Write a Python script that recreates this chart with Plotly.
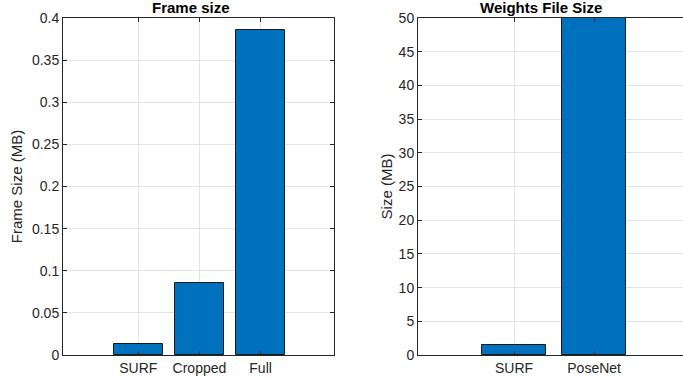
import plotly.graph_objects as go

W, H = 683, 379

frame_cats = ["SURF", "Cropped", "Full"]
frame_vals = [0.013, 0.086, 0.386]
weight_cats = ["SURF", "PoseNet"]
weight_vals = [1.5, 50]

frame_ticks = [0, 0.05, 0.1, 0.15, 0.2, 0.25, 0.3, 0.35, 0.4]
frame_ticktext = ["0", "0.05", "0.1", "0.15", "0.2", "0.25", "0.3", "0.35", "0.4"]
weight_ticks = [0, 5, 10, 15, 20, 25, 30, 35, 40, 45, 50]

BAR = "#0072BD"
AX = "#262626"
GRID = "#e3e3e3"
FONT = "Liberation Sans, Arial, Helvetica, sans-serif"
TICK_FS = 14
LABEL_FS = 15
TITLE_FS = 15

fig = go.Figure()
fig.add_trace(go.Bar(x=list(range(1, len(frame_cats) + 1)), y=frame_vals, width=0.8,
                     marker=dict(color=BAR, line=dict(color="#1a1a1a", width=1)),
                     xaxis="x", yaxis="y", showlegend=False))
fig.add_trace(go.Bar(x=list(range(1, len(weight_cats) + 1)), y=weight_vals, width=0.8,
                     marker=dict(color=BAR, line=dict(color="#1a1a1a", width=1)),
                     xaxis="x2", yaxis="y2", showlegend=False, cliponaxis=True))

common = dict(showline=True, linecolor=AX, linewidth=1, ticks="inside", ticklen=4,
              tickcolor=AX, showgrid=True, gridcolor=GRID, gridwidth=1, zeroline=False,
              tickfont=dict(family=FONT, size=TICK_FS, color=AX))

left_dom = [63 / W, 334 / W]
right_dom = [418 / W, 1.0]

fig.update_layout(
    width=W, height=H,
    margin=dict(l=0, r=0, t=18, b=24),
    paper_bgcolor="white", plot_bgcolor="white",
    bargap=0,
    xaxis=dict(domain=left_dom, range=[-0.23, 4.2], tickvals=list(range(1, len(frame_cats) + 1)),
               ticktext=frame_cats, mirror="ticks", anchor="y", **common),
    yaxis=dict(domain=[0, 1], range=[0, 0.4], tickvals=frame_ticks, ticktext=frame_ticktext,
               mirror="ticks", anchor="x",
               title=dict(text="Frame Size (MB)", font=dict(family=FONT, size=LABEL_FS, color=AX), standoff=5),
               **common),
    xaxis2=dict(domain=right_dom, range=[-0.2, 3.11], tickvals=list(range(1, len(weight_cats) + 1)),
                ticktext=weight_cats, mirror="ticks", anchor="y2", **common),
    yaxis2=dict(domain=[0, 1], range=[0, 50], tickvals=weight_ticks, anchor="x2",
                mirror=False,
                title=dict(text="Size (MB)", font=dict(family=FONT, size=LABEL_FS, color=AX), standoff=2),
                **common),
    annotations=[
        dict(text="<b>Frame size</b>", x=191 / W, y=1, xref="paper", yref="paper",
             showarrow=False, font=dict(family=FONT, size=TITLE_FS, color="#000000"),
             xanchor="center", yanchor="middle"),
        dict(text="<b>Weights File Size</b>", x=541 / W, y=1, xref="paper", yref="paper",
             showarrow=False, font=dict(family=FONT, size=TITLE_FS, color="#000000"),
             xanchor="center", yanchor="middle"),
    ],
)
plot_h = H - 18 - 24
for a in fig.layout.annotations:
    a.y = 1 + (18 - 7) / plot_h

fig.write_html("out.html")
